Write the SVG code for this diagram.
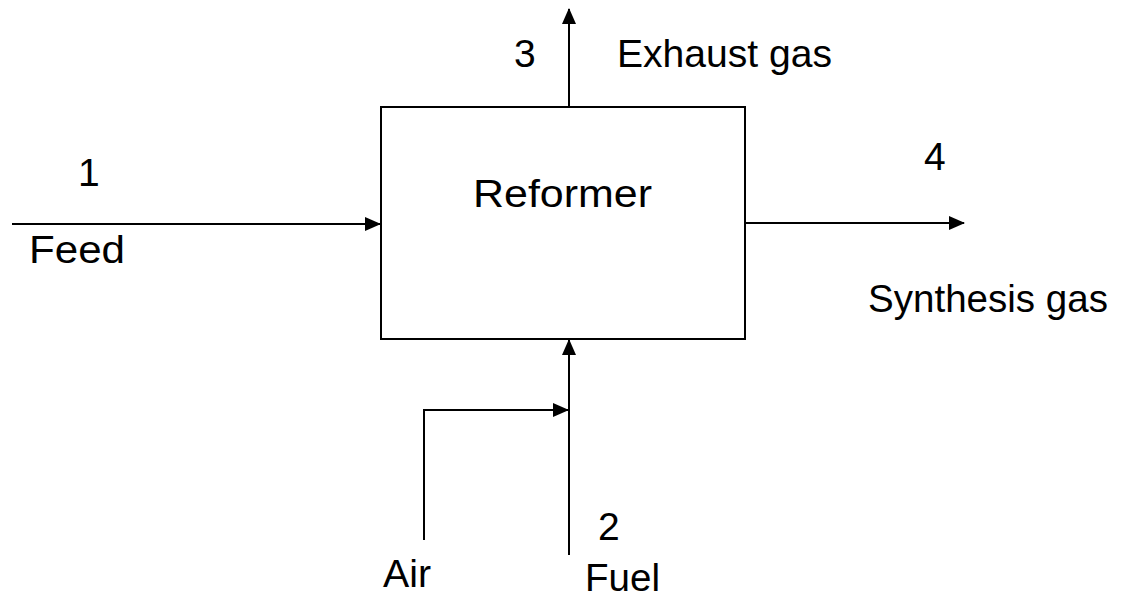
<svg xmlns="http://www.w3.org/2000/svg" width="1148" height="598" viewBox="0 0 1148 598">
<style>
.t{font-family:"Liberation Sans",Arial,sans-serif;font-size:39px;fill:#000}
.ln{stroke:#000;stroke-width:2;fill:none}
</style>
<defs>
<marker id="ah" markerUnits="userSpaceOnUse" markerWidth="16" markerHeight="14" refX="15" refY="7" orient="auto">
<path d="M0,0 L16,7 L0,14 Z" fill="#000"/>
</marker>
</defs>
<rect width="1148" height="598" fill="#fff"/>
<g id="reformer">
<rect x="381" y="107" width="364" height="232" class="ln"/>
<text class="t" x="473" y="207" textLength="179" lengthAdjust="spacingAndGlyphs">Reformer</text>
</g>
<g id="connectors">
<line class="ln" x1="12" y1="224" x2="380" y2="224" marker-end="url(#ah)"/>
<line class="ln" x1="569" y1="107" x2="569" y2="9" marker-end="url(#ah)"/>
<line class="ln" x1="745" y1="223" x2="964" y2="223" marker-end="url(#ah)"/>
<line class="ln" x1="569" y1="555" x2="569" y2="340" marker-end="url(#ah)"/>
<polyline class="ln" points="424,540 424,410 568,410" marker-end="url(#ah)"/>
</g>
<g id="labels">
<text class="t" x="78" y="186">1</text>
<text class="t" x="29" y="263" textLength="96" lengthAdjust="spacingAndGlyphs">Feed</text>
<text class="t" x="514" y="67">3</text>
<text class="t" x="617" y="67" textLength="215" lengthAdjust="spacingAndGlyphs">Exhaust gas</text>
<text class="t" x="924" y="170">4</text>
<text class="t" x="868" y="312" textLength="240" lengthAdjust="spacingAndGlyphs">Synthesis gas</text>
<text class="t" x="598" y="540">2</text>
<text class="t" x="383" y="587" textLength="48" lengthAdjust="spacingAndGlyphs">Air</text>
<text class="t" x="585" y="591" textLength="75" lengthAdjust="spacingAndGlyphs">Fuel</text>
</g>
</svg>
